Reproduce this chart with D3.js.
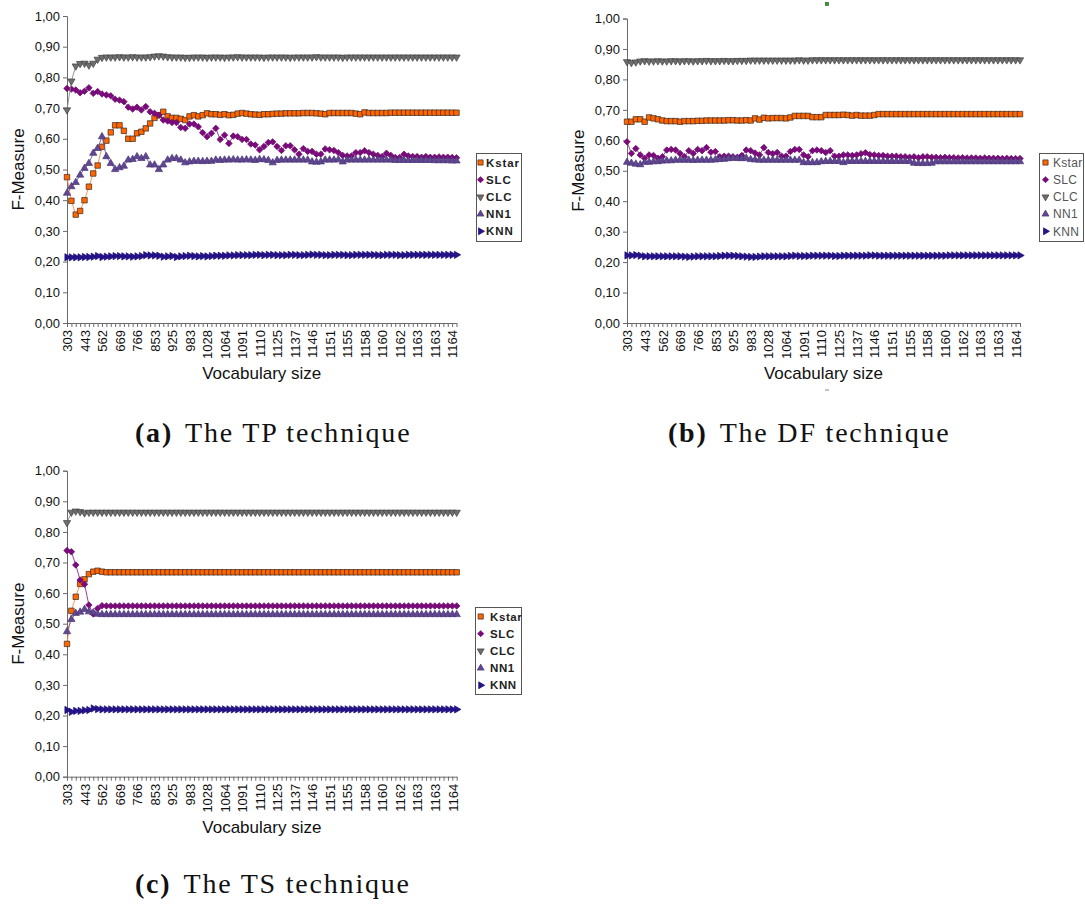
<!DOCTYPE html>
<html><head><meta charset="utf-8">
<script src="https://cdn.jsdelivr.net/npm/d3@7"></script>
<style>body{margin:0;background:#fff}svg{display:block}</style>
</head><body>
<svg id="c" width="1085" height="904"></svg>
<script>
// ---------- DATA ----------
const tickLabels = ["303","443","562","669","766","853","925","983","1028","1064","1091","1110","1125","1137","1146","1151","1155","1158","1160","1162","1163","1163","1164"];
const categoryCount = 90;       // number of vocabulary-size steps on the x axis
const labelEvery = 4;           // a label on every 4th category
const seriesNames = ["Kstar","SLC","CLC","NN1","KNN"];
const yTicks = [0,0.1,0.2,0.3,0.4,0.5,0.6,0.7,0.8,0.9,1.0];

// (a) TP technique
const kstarTP = [
0.475,0.398,0.353,0.365,0.400,0.444,0.487,0.513,0.574,0.594,
0.621,0.644,0.644,0.626,0.600,0.600,0.618,0.623,0.634,0.650,
0.668,0.677,0.688,0.673,0.668,0.668,0.665,0.661,0.673,0.677,
0.673,0.677,0.683,0.680,0.680,0.678,0.680,0.677,0.678,0.682,
0.684,0.682,0.680,0.679,0.678,0.680,0.680,0.681,0.682,0.682,
0.683,0.683,0.683,0.683,0.684,0.684,0.684,0.683,0.682,0.680,
0.684,0.684,0.684,0.684,0.684,0.684,0.682,0.680,0.686,0.684,
0.684,0.684,0.684,0.684,0.685,0.685,0.685,0.685,0.685,0.685,
0.685,0.685,0.685,0.685,0.685,0.685,0.685,0.685,0.685,0.685];
const slcTP = [
0.764,0.762,0.759,0.750,0.755,0.766,0.748,0.754,0.746,0.743,
0.740,0.729,0.726,0.721,0.703,0.697,0.703,0.694,0.705,0.688,
0.683,0.677,0.661,0.658,0.653,0.653,0.637,0.634,0.648,0.648,
0.639,0.620,0.607,0.618,0.634,0.598,0.612,0.585,0.609,0.607,
0.598,0.598,0.583,0.580,0.564,0.575,0.588,0.590,0.575,0.562,
0.577,0.577,0.564,0.550,0.568,0.559,0.559,0.550,0.550,0.567,
0.564,0.562,0.555,0.546,0.544,0.544,0.555,0.555,0.561,0.555,
0.550,0.546,0.542,0.553,0.546,0.539,0.539,0.550,0.544,0.542,
0.542,0.540,0.542,0.540,0.540,0.541,0.540,0.540,0.539,0.538];
const clcTP = [
0.694,0.788,0.837,0.845,0.846,0.840,0.846,0.859,0.865,0.866,
0.866,0.866,0.867,0.866,0.866,0.867,0.866,0.866,0.866,0.867,
0.869,0.870,0.869,0.867,0.866,0.866,0.866,0.865,0.865,0.866,
0.866,0.866,0.865,0.866,0.866,0.866,0.865,0.866,0.866,0.867,
0.866,0.866,0.866,0.866,0.866,0.865,0.866,0.866,0.866,0.866,
0.866,0.865,0.866,0.866,0.866,0.866,0.866,0.867,0.866,0.866,
0.866,0.866,0.866,0.865,0.866,0.866,0.866,0.866,0.866,0.866,
0.866,0.866,0.866,0.866,0.866,0.866,0.866,0.866,0.866,0.866,
0.866,0.866,0.866,0.866,0.866,0.866,0.866,0.866,0.866,0.866];
const nn1TP = [
0.423,0.444,0.458,0.482,0.504,0.520,0.553,0.569,0.607,0.542,
0.520,0.500,0.506,0.511,0.531,0.533,0.542,0.536,0.542,0.515,
0.515,0.500,0.515,0.531,0.536,0.536,0.531,0.522,0.525,0.527,
0.527,0.526,0.527,0.527,0.531,0.530,0.531,0.531,0.532,0.531,
0.531,0.532,0.531,0.530,0.533,0.532,0.530,0.522,0.530,0.531,
0.531,0.531,0.531,0.531,0.531,0.531,0.525,0.524,0.525,0.531,
0.531,0.531,0.532,0.525,0.531,0.531,0.531,0.531,0.531,0.531,
0.531,0.531,0.531,0.531,0.531,0.530,0.530,0.530,0.530,0.530,
0.530,0.530,0.530,0.530,0.529,0.529,0.529,0.529,0.528,0.528];
const knnTP = [
0.214,0.214,0.214,0.214,0.215,0.215,0.216,0.218,0.215,0.216,
0.217,0.218,0.218,0.217,0.217,0.216,0.217,0.218,0.221,0.220,
0.220,0.219,0.216,0.217,0.218,0.215,0.217,0.218,0.219,0.218,
0.217,0.218,0.217,0.218,0.219,0.219,0.219,0.220,0.220,0.221,
0.221,0.221,0.221,0.222,0.222,0.221,0.222,0.222,0.221,0.221,
0.221,0.222,0.222,0.221,0.221,0.222,0.223,0.222,0.222,0.221,
0.221,0.222,0.222,0.222,0.221,0.221,0.222,0.222,0.222,0.222,
0.222,0.221,0.221,0.222,0.222,0.222,0.221,0.221,0.222,0.222,
0.222,0.222,0.222,0.222,0.222,0.222,0.222,0.222,0.222,0.222];

// (b) DF technique
const kstarDF = [
0.661,0.661,0.669,0.669,0.661,0.675,0.672,0.669,0.665,0.663,
0.663,0.663,0.661,0.663,0.663,0.663,0.664,0.664,0.665,0.665,
0.665,0.665,0.665,0.666,0.666,0.665,0.665,0.666,0.665,0.672,
0.668,0.674,0.672,0.673,0.673,0.673,0.672,0.675,0.680,0.680,
0.680,0.680,0.676,0.676,0.676,0.683,0.683,0.683,0.683,0.684,
0.683,0.681,0.683,0.681,0.681,0.681,0.683,0.686,0.686,0.686,
0.686,0.686,0.686,0.686,0.686,0.686,0.686,0.686,0.686,0.686,
0.686,0.686,0.686,0.686,0.686,0.686,0.686,0.686,0.686,0.686,
0.686,0.686,0.686,0.686,0.686,0.686,0.686,0.686,0.686,0.686];
const slcDF = [
0.595,0.557,0.573,0.552,0.541,0.552,0.550,0.541,0.546,0.568,
0.570,0.568,0.557,0.546,0.566,0.557,0.570,0.566,0.576,0.561,
0.563,0.546,0.548,0.548,0.546,0.544,0.550,0.568,0.566,0.558,
0.552,0.576,0.560,0.556,0.560,0.548,0.548,0.563,0.570,0.570,
0.552,0.546,0.566,0.568,0.566,0.560,0.566,0.548,0.548,0.552,
0.552,0.550,0.552,0.556,0.559,0.553,0.552,0.550,0.550,0.548,
0.548,0.548,0.546,0.546,0.544,0.546,0.543,0.546,0.546,0.544,
0.544,0.543,0.544,0.543,0.543,0.542,0.543,0.542,0.542,0.542,
0.541,0.542,0.541,0.541,0.541,0.540,0.541,0.540,0.540,0.540];
const clcDF = [
0.858,0.855,0.857,0.860,0.861,0.860,0.860,0.861,0.860,0.860,
0.861,0.861,0.860,0.861,0.861,0.860,0.861,0.861,0.862,0.861,
0.861,0.861,0.862,0.861,0.861,0.862,0.862,0.862,0.863,0.863,
0.863,0.863,0.863,0.863,0.863,0.863,0.863,0.863,0.863,0.864,
0.863,0.863,0.864,0.864,0.864,0.864,0.864,0.864,0.864,0.864,
0.864,0.864,0.864,0.864,0.864,0.864,0.864,0.864,0.864,0.864,
0.864,0.864,0.864,0.864,0.864,0.864,0.864,0.864,0.864,0.864,
0.864,0.864,0.864,0.864,0.864,0.864,0.864,0.864,0.864,0.864,
0.864,0.864,0.864,0.864,0.864,0.864,0.864,0.864,0.864,0.864];
const nn1DF = [
0.528,0.525,0.522,0.520,0.528,0.528,0.530,0.530,0.532,0.533,
0.533,0.535,0.535,0.535,0.535,0.534,0.535,0.535,0.535,0.535,
0.536,0.537,0.538,0.540,0.541,0.541,0.540,0.541,0.537,0.536,
0.535,0.535,0.535,0.535,0.535,0.535,0.535,0.535,0.535,0.535,
0.527,0.527,0.527,0.527,0.530,0.531,0.531,0.531,0.531,0.527,
0.531,0.531,0.531,0.531,0.531,0.531,0.531,0.531,0.531,0.531,
0.531,0.531,0.531,0.531,0.531,0.525,0.524,0.524,0.524,0.525,
0.530,0.530,0.530,0.530,0.530,0.530,0.530,0.530,0.530,0.530,
0.530,0.530,0.530,0.530,0.530,0.530,0.530,0.530,0.530,0.530];
const knnDF = [
0.222,0.222,0.223,0.221,0.219,0.219,0.219,0.219,0.219,0.219,
0.219,0.219,0.219,0.218,0.217,0.218,0.219,0.219,0.219,0.219,
0.219,0.220,0.221,0.221,0.221,0.220,0.219,0.218,0.217,0.217,
0.218,0.219,0.219,0.219,0.219,0.219,0.219,0.220,0.221,0.220,
0.220,0.220,0.221,0.221,0.221,0.221,0.221,0.220,0.220,0.221,
0.221,0.221,0.221,0.221,0.221,0.222,0.222,0.221,0.221,0.221,
0.221,0.221,0.221,0.221,0.221,0.221,0.221,0.221,0.221,0.221,
0.221,0.221,0.221,0.222,0.222,0.222,0.222,0.222,0.222,0.222,
0.222,0.222,0.222,0.222,0.222,0.222,0.222,0.222,0.222,0.222];

// (c) TS technique
const kstarTS = [
0.434,0.542,0.588,0.630,0.645,0.662,0.670,0.673,0.670,0.668,
0.668,0.668,0.668,0.668,0.668,0.668,0.668,0.668,0.668,0.668,
0.668,0.668,0.668,0.668,0.668,0.668,0.668,0.668,0.668,0.668,
0.668,0.668,0.668,0.668,0.668,0.668,0.668,0.668,0.668,0.668,
0.668,0.668,0.668,0.668,0.668,0.668,0.668,0.668,0.668,0.668,
0.668,0.668,0.668,0.668,0.668,0.668,0.668,0.668,0.668,0.668,
0.668,0.668,0.668,0.668,0.668,0.668,0.668,0.668,0.668,0.668,
0.668,0.668,0.668,0.668,0.668,0.668,0.668,0.668,0.668,0.668,
0.668,0.668,0.668,0.668,0.668,0.668,0.668,0.668,0.668,0.668];
const slcTS = [
0.739,0.735,0.692,0.643,0.629,0.561,0.532,0.550,0.559,0.558,
0.558,0.558,0.558,0.558,0.558,0.558,0.558,0.558,0.558,0.558,
0.558,0.558,0.558,0.558,0.558,0.558,0.558,0.558,0.558,0.558,
0.558,0.558,0.558,0.558,0.558,0.558,0.558,0.558,0.558,0.558,
0.558,0.558,0.558,0.558,0.558,0.558,0.558,0.558,0.558,0.558,
0.558,0.558,0.558,0.558,0.558,0.558,0.558,0.558,0.558,0.558,
0.558,0.558,0.558,0.558,0.558,0.558,0.558,0.558,0.558,0.558,
0.558,0.558,0.558,0.558,0.558,0.558,0.558,0.558,0.558,0.558,
0.558,0.558,0.558,0.558,0.558,0.558,0.558,0.558,0.558,0.558];
const clcTS = [
0.830,0.864,0.868,0.866,0.862,0.864,0.864,0.864,0.864,0.864,
0.864,0.864,0.864,0.864,0.864,0.864,0.864,0.864,0.864,0.864,
0.864,0.864,0.864,0.864,0.864,0.864,0.864,0.864,0.864,0.864,
0.864,0.864,0.864,0.864,0.864,0.864,0.864,0.864,0.864,0.864,
0.864,0.864,0.864,0.864,0.864,0.864,0.864,0.864,0.864,0.864,
0.864,0.864,0.864,0.864,0.864,0.864,0.864,0.864,0.864,0.864,
0.864,0.864,0.864,0.864,0.864,0.864,0.864,0.864,0.864,0.864,
0.864,0.864,0.864,0.864,0.864,0.864,0.864,0.864,0.864,0.864,
0.864,0.864,0.864,0.864,0.864,0.864,0.864,0.864,0.864,0.864];
const nn1TS = [
0.474,0.514,0.534,0.538,0.547,0.539,0.536,0.531,0.530,0.530,
0.530,0.530,0.530,0.530,0.530,0.530,0.530,0.530,0.530,0.530,
0.530,0.530,0.530,0.530,0.530,0.530,0.530,0.530,0.530,0.530,
0.530,0.530,0.530,0.530,0.530,0.530,0.530,0.530,0.530,0.530,
0.530,0.530,0.530,0.530,0.530,0.530,0.530,0.530,0.530,0.530,
0.530,0.530,0.530,0.530,0.530,0.530,0.530,0.530,0.530,0.530,
0.530,0.530,0.530,0.530,0.530,0.530,0.530,0.530,0.530,0.530,
0.530,0.530,0.530,0.530,0.530,0.530,0.530,0.530,0.530,0.530,
0.530,0.530,0.530,0.530,0.530,0.530,0.530,0.530,0.530,0.530];
const knnTS = [
0.218,0.212,0.215,0.215,0.217,0.218,0.223,0.221,0.220,0.220,
0.220,0.220,0.220,0.220,0.220,0.220,0.220,0.220,0.220,0.220,
0.220,0.220,0.220,0.220,0.220,0.220,0.220,0.220,0.220,0.220,
0.220,0.220,0.220,0.220,0.220,0.220,0.220,0.220,0.220,0.220,
0.220,0.220,0.220,0.220,0.220,0.220,0.220,0.220,0.220,0.220,
0.220,0.220,0.220,0.220,0.220,0.220,0.220,0.220,0.220,0.220,
0.220,0.220,0.220,0.220,0.220,0.220,0.220,0.220,0.220,0.220,
0.220,0.220,0.220,0.220,0.220,0.220,0.220,0.220,0.220,0.220,
0.220,0.220,0.220,0.220,0.220,0.220,0.220,0.220,0.220,0.220];

// ---------- STYLE ----------
const styles = {
  Kstar:{fill:"#ff6600", stroke:"#3a2a20", line:"#ff8a3a", shape:"square"},
  SLC:  {fill:"#7c0a7c", stroke:"#6a0a6a", line:"#8a2a8a", shape:"diamond"},
  CLC:  {fill:"#6e6e6e", stroke:"#404040", line:"#8c8c8c", shape:"down"},
  NN1:  {fill:"#60478f", stroke:"#4a3578", line:"#6d5a98", shape:"up"},
  KNN:  {fill:"#24138c", stroke:"#1a0d70", line:"#2a1a8c", shape:"right"}
};
function symbolPath(shape, scale){
  const s = scale||1;
  if(shape==="square") return d3.symbol(d3.symbolSquare, 30*s)();
  if(shape==="diamond") return d3.symbol(d3.symbolSquare, 21*s)();
  return d3.symbol(d3.symbolTriangle, 23*s)();
}
function symbolRot(shape){
  if(shape==="diamond") return 45;
  if(shape==="down") return 180;
  if(shape==="right") return 90;
  return 0;
}

const panels = [
  {series:[kstarTP,slcTP,clcTP,nn1TP,knnTP], left:67, right:456.5, top:16, bottom:323,
   ylabX:18, legend:{x:476,y:153,w:45,h:88,bold:true,color:"#222",mx:480.5,tx:486,fs:11.5,ls:0.9},
   caption:{x:135,y:442,b:"(a)",t:"The TP technique"}},
  {series:[kstarDF,slcDF,clcDF,nn1DF,knnDF], left:627, right:1020, top:18.5, bottom:323,
   ylabX:578.5, legend:{x:1039,y:153,w:44,h:88,bold:false,color:"#555",mx:1045.5,tx:1053,fs:12,ls:0.3},
   caption:{x:668,y:442,b:"(b)",t:"The DF technique"}},
  {series:[kstarTS,slcTS,clcTS,nn1TS,knnTS], left:67, right:456.7, top:470.7, bottom:776.7,
   ylabX:18, legend:{x:475,y:607,w:46,h:87,bold:true,color:"#222",mx:480.7,tx:490,fs:11.5,ls:0.6},
   caption:{x:135,y:893,b:"(c)",t:"The TS technique"}}
];

const svg = d3.select("#c");
const sans = "'Liberation Sans', Arial, sans-serif";
const serif = "'Liberation Serif', 'DejaVu Serif', serif";
const axisColor = "#6a6a6a";

panels.forEach(p=>{
  const g = svg.append("g");
  const idx = d3.range(categoryCount);
  const x = d3.scaleLinear().domain([0, categoryCount-1]).range([p.left, p.right]);
  const y = d3.scaleLinear().domain([0,1]).range([p.bottom, p.top]);

  // y axis
  const ya = g.append("g").attr("transform",`translate(${p.left},0)`)
    .call(d3.axisLeft(y).tickValues(yTicks).tickSize(4).tickPadding(3)
      .tickFormat(d=>d.toFixed(2).replace(".",",")));
  ya.select(".domain").attr("stroke",axisColor);
  ya.selectAll(".tick line").attr("stroke",axisColor);
  ya.selectAll("text").attr("font-family",sans).attr("font-size",13).attr("fill","#111");

  // x axis
  const xa = g.append("g").attr("transform",`translate(0,${p.bottom})`)
    .call(d3.axisBottom(x).tickValues(idx).tickSize(4).tickSizeOuter(0)
      .tickFormat(i=> i%labelEvery===0 ? tickLabels[i/labelEvery] : ""));
  xa.select(".domain").attr("stroke",axisColor);
  xa.selectAll(".tick line").attr("stroke",axisColor);
  xa.selectAll("text").attr("font-family",sans).attr("font-size",13).attr("fill","#111")
    .attr("transform","rotate(-90)").attr("text-anchor","end")
    .attr("x",-7).attr("y",0).attr("dy","0.36em");

  // axis titles
  g.append("text").attr("transform",`translate(${p.ylabX},${(p.top+p.bottom)/2}) rotate(-90)`)
    .attr("text-anchor","middle").attr("dy","0.35em").attr("font-family",sans).attr("font-size",17)
    .attr("fill","#111").text("F-Measure");
  g.append("text").attr("x",(p.left+p.right)/2).attr("y",p.bottom+56)
    .attr("text-anchor","middle").attr("font-family",sans).attr("font-size",17)
    .attr("fill","#111").text("Vocabulary size");

  // series
  p.series.forEach((vals,k)=>{
    const st = styles[seriesNames[k]];
    const line = d3.line().x((d,i)=>x(i)).y(d=>y(d));
    g.append("path").datum(vals).attr("d",line).attr("fill","none")
      .attr("stroke",st.line).attr("stroke-width",0.9);
    g.append("g").selectAll("path").data(vals).join("path")
      .attr("d",symbolPath(st.shape))
      .attr("transform",(d,i)=>`translate(${x(i)},${y(d)}) rotate(${symbolRot(st.shape)})`)
      .attr("fill",st.fill).attr("stroke",st.stroke).attr("stroke-width",0.7);
  });

  // legend
  const L = p.legend;
  g.append("rect").attr("x",L.x+0.5).attr("y",L.y+0.5).attr("width",L.w).attr("height",L.h)
    .attr("fill","#fff").attr("stroke","#555").attr("stroke-width",1);
  seriesNames.forEach((nm,k)=>{
    const st = styles[nm];
    const cy = L.y + 9.5 + k*17.2;
    g.append("path").attr("d",symbolPath(st.shape,0.9))
      .attr("transform",`translate(${L.mx},${cy}) rotate(${symbolRot(st.shape)})`)
      .attr("fill",st.fill).attr("stroke",st.stroke).attr("stroke-width",0.7);
    g.append("text").attr("x",L.tx).attr("y",cy).attr("dy","0.36em")
      .attr("font-family",sans).attr("font-size",L.fs).attr("font-weight",L.bold?"bold":"normal")
      .attr("letter-spacing",L.ls).attr("fill",L.color).text(nm);
  });

  // caption
  const c = g.append("text").attr("x",p.caption.x).attr("y",p.caption.y)
    .attr("font-family",serif).attr("font-size",28).attr("fill","#111")
    .attr("letter-spacing",1.8).attr("word-spacing",0);
  c.append("tspan").attr("font-weight","bold").text(p.caption.b);
  c.append("tspan").attr("dx",12).text(p.caption.t);
});

// small stray marks present in the original scan of panel (b)
svg.append("rect").attr("x",825.5).attr("y",2.5).attr("width",3).attr("height",3)
  .attr("fill","#22aa22").attr("stroke","#224422").attr("stroke-width",0.6);
svg.append("line").attr("x1",825).attr("x2",829).attr("y1",390).attr("y2",390)
  .attr("stroke","#888").attr("stroke-width",1);
</script>
</body></html>
